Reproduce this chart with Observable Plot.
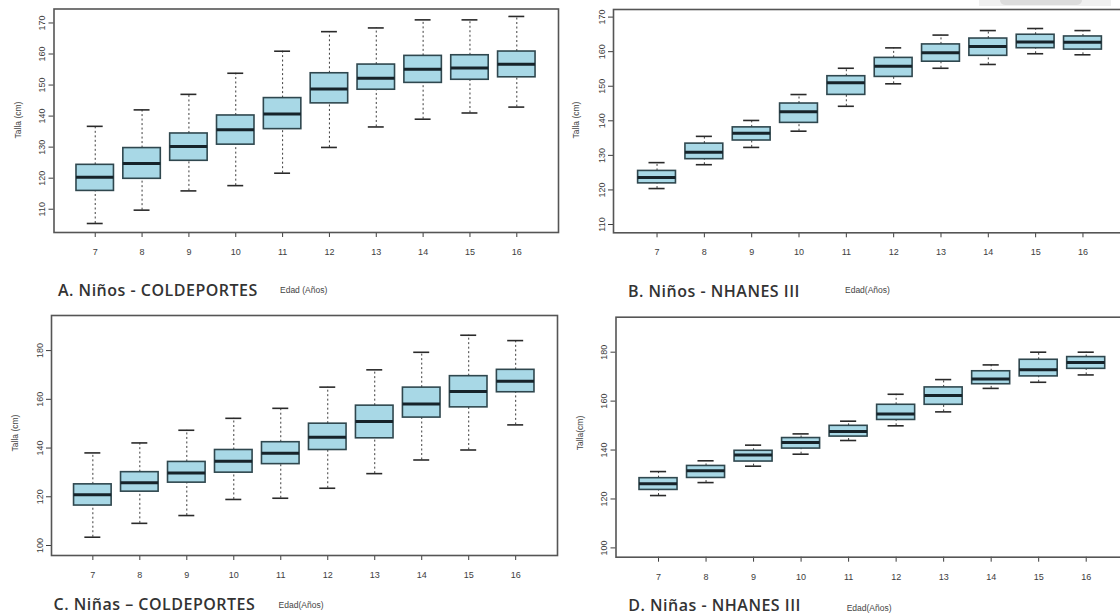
<!DOCTYPE html>
<html><head><meta charset="utf-8">
<script src="https://cdn.jsdelivr.net/npm/d3@7"></script>
<script src="https://cdn.jsdelivr.net/npm/@observablehq/plot@0.6"></script>
<style>
body{margin:0;background:#fff;}
#wrap{position:relative;width:1120px;height:616px;overflow:hidden;background:#fff;font-family:"Liberation Sans",Arial,sans-serif;}
.panel{position:absolute;}
.title{position:absolute;font-family:"Open Sans",sans-serif;font-weight:600;font-size:16px;line-height:12px;letter-spacing:0.5px;color:#333;white-space:nowrap;}
.xl{position:absolute;font-size:8.5px;color:#444;white-space:nowrap;line-height:10px;transform:translateY(-50%);}
.yl{position:absolute;font-size:8.5px;color:#444;white-space:nowrap;line-height:10px;transform:translate(-50%,-50%) rotate(-90deg);}
.deco{position:absolute;}
</style></head><body><div id="wrap"></div>
<script>
// Ages (x categories)
const ages = [7, 8, 9, 10, 11, 12, 13, 14, 15, 16];

// A. Niños - COLDEPORTES
const aLow = [105.4, 109.7, 115.9, 117.6, 121.6, 129.9, 136.5, 139.0, 141.0, 142.9];
const aQ1  = [115.9, 119.8, 125.6, 130.8, 135.8, 144.1, 148.5, 150.7, 151.7, 152.5];
const aMed = [120.3, 124.7, 130.2, 135.6, 140.7, 148.7, 152.2, 155.1, 155.5, 156.7];
const aQ3  = [124.3, 129.7, 134.4, 140.2, 145.8, 153.8, 156.6, 159.4, 159.6, 160.8];
const aHigh= [136.7, 142.0, 147.0, 153.8, 160.9, 167.2, 168.4, 171.0, 171.0, 172.1];

// B. Niños - NHANES III
const bLow = [120.4, 127.3, 132.3, 137.0, 144.2, 150.7, 155.2, 156.3, 159.4, 159.1];
const bQ1  = [121.9, 128.9, 134.3, 139.4, 147.5, 152.7, 157.1, 158.8, 161.0, 160.6];
const bMed = [123.6, 130.9, 136.4, 142.6, 151.0, 155.8, 159.7, 161.5, 162.8, 162.7];
const bQ3  = [125.5, 133.4, 138.1, 145.0, 152.9, 158.2, 162.1, 163.8, 164.9, 164.4];
const bHigh= [127.9, 135.5, 140.1, 147.6, 155.2, 161.1, 164.8, 166.1, 166.7, 166.1];

// C. Niñas – COLDEPORTES
const cLow = [103.4, 109.1, 112.3, 118.9, 119.4, 123.5, 129.5, 135.1, 139.2, 149.5];
const cQ1  = [116.4, 122.1, 125.8, 129.9, 133.4, 139.2, 144.0, 152.5, 156.7, 162.9];
const cMed = [120.8, 125.8, 129.8, 134.6, 137.9, 144.4, 150.9, 158.1, 163.2, 167.4];
const cQ3  = [125.1, 130.1, 134.3, 139.2, 142.4, 150.0, 157.4, 164.8, 169.5, 172.1];
const cHigh= [138.0, 142.1, 147.3, 152.2, 156.3, 165.0, 172.1, 179.3, 186.3, 184.1];

// D. Niñas - NHANES III
const dLow = [121.4, 126.7, 133.4, 138.3, 143.9, 149.9, 155.6, 165.2, 167.7, 170.7];
const dQ1  = [123.7, 128.6, 135.3, 140.6, 145.5, 152.3, 158.5, 166.9, 170.1, 173.2];
const dMed = [126.2, 131.5, 138.0, 143.1, 147.6, 154.7, 162.3, 169.0, 172.8, 175.8];
const dQ3  = [128.5, 133.5, 139.7, 144.9, 149.9, 158.5, 165.6, 172.2, 176.9, 178.0];
const dHigh= [131.2, 135.6, 142.0, 146.6, 151.8, 162.8, 168.8, 174.8, 180.0, 180.0];

// Tick labels
const yTicksBoys  = [110, 120, 130, 140, 150, 160, 170];
const yTicksGirls = [100, 120, 140, 160, 180];

const titles = ["A. Niños - COLDEPORTES", "B. Niños - NHANES III", "C. Niñas – COLDEPORTES", "D. Niñas - NHANES III"];
const xTitles = ["Edad (Años)", "Edad(Años)", "Edad(Años)", "Edad(Años)"];
const yTitles = ["Talla (cm)", "Talla (cm)", "Talla (cm)", "Talla(cm)"];

function table(lo, q1, med, q3, hi) {
  return ages.map((age, i) => ({age, lo: lo[i], q1: q1[i], med: med[i], q3: q3[i], hi: hi[i]}));
}

const panels = [
  {data: table(aLow, aQ1, aMed, aQ3, aHigh), left: 0, top: 0, width: 560, height: 300,
   m: [8.5, 2, 68, 53.5], xd: [6.12, 16.89], yd: [102.5, 174.5], yt: yTicksBoys,
   title: [58, 283.8], xt: [280, 290], ytl: [18, 120]},
  {data: table(bLow, bQ1, bMed, bQ3, bHigh), left: 560, top: 0, width: 570, height: 300,
   m: [9, 4, 67.7, 53], xd: [6.08, 16.92], yd: [107.6, 172.2], yt: yTicksBoys,
   title: [628, 284.5], xt: [845, 290], ytl: [576, 120]},
  {data: table(cLow, cQ1, cMed, cQ3, cHigh), left: 0, top: 300, width: 560, height: 316,
   m: [15, 3, 61, 51], xd: [6.12, 16.89], yd: [95.9, 194.4], yt: yTicksGirls,
   title: [53.6, 598], xt: [278.6, 605], ytl: [15, 433]},
  {data: table(dLow, dQ1, dMed, dQ3, dHigh), left: 560, top: 300, width: 570, height: 316,
   m: [16.7, 4, 59.3, 55.5], xd: [6.105, 16.848], yd: [96.2, 194.3], yt: yTicksGirls,
   title: [628.3, 599], xt: [846.7, 608], ytl: [579.6, 433]}
];

const wrap = document.getElementById("wrap");
const boxFill = "#a8d8e6", boxStroke = "#2f474e", medColor = "#16232a", ink = "#3d3d3d";

panels.forEach((p, k) => {
  const chart = Plot.plot({
    width: p.width, height: p.height,
    marginTop: p.m[0], marginRight: p.m[1], marginBottom: p.m[2], marginLeft: p.m[3],
    style: {background: "transparent", fontFamily: "'Liberation Sans', Arial, sans-serif", fontSize: "9px", overflow: "visible"},
    x: {type: "linear", domain: p.xd},
    y: {domain: p.yd},
    marks: [
      Plot.ruleX(p.data, {x: "age", y1: "q3", y2: "hi", stroke: ink, strokeWidth: 1, strokeDasharray: "2,2.5"}),
      Plot.ruleX(p.data, {x: "age", y1: "lo", y2: "q1", stroke: ink, strokeWidth: 1, strokeDasharray: "2,2.5"}),
      Plot.ruleY(p.data, {y: "hi", x1: d => d.age - 0.17, x2: d => d.age + 0.17, stroke: "#2a2a2a", strokeWidth: 1.6}),
      Plot.ruleY(p.data, {y: "lo", x1: d => d.age - 0.17, x2: d => d.age + 0.17, stroke: "#2a2a2a", strokeWidth: 1.6}),
      Plot.rect(p.data, {x1: d => d.age - 0.4, x2: d => d.age + 0.4, y1: "q1", y2: "q3", fill: boxFill, stroke: boxStroke, strokeWidth: 1.6}),
      Plot.ruleY(p.data, {y: "med", x1: d => d.age - 0.4, x2: d => d.age + 0.4, stroke: medColor, strokeWidth: 3}),
      Plot.axisX({ticks: ages, tickSize: 5, tickPadding: 11, label: null, color: ink, fontSize: 9}),
      Plot.axisY({ticks: p.yt, tickSize: 5, tickRotate: -90, label: null, color: ink, fontSize: 9}),
      Plot.frame({stroke: "#555", strokeWidth: 1.6})
    ]
  });
  chart.classList.add("panel");
  chart.style.left = p.left + "px";
  chart.style.top = p.top + "px";
  wrap.appendChild(chart);

  const t = document.createElement("div");
  t.className = "title"; t.textContent = titles[k];
  t.style.left = p.title[0] + "px"; t.style.top = p.title[1] + "px";
  wrap.appendChild(t);

  const xt = document.createElement("div");
  xt.className = "xl"; xt.textContent = xTitles[k];
  xt.style.left = p.xt[0] + "px"; xt.style.top = p.xt[1] + "px";
  wrap.appendChild(xt);

  const yt = document.createElement("div");
  yt.className = "yl"; yt.textContent = yTitles[k];
  yt.style.left = p.ytl[0] + "px"; yt.style.top = p.ytl[1] + "px";
  wrap.appendChild(yt);
});

// scan artefact at top right
const d1 = document.createElement("div");
d1.className = "deco";
Object.assign(d1.style, {left: "979px", top: "0px", width: "132px", height: "6px", background: "#f0f0f0"});
wrap.appendChild(d1);
const d2 = document.createElement("div");
d2.className = "deco";
Object.assign(d2.style, {left: "1000px", top: "0px", width: "82px", height: "5px", background: "#dcdcdc", borderRadius: "0 0 14px 14px"});
wrap.appendChild(d2);
</script>
</body></html>
